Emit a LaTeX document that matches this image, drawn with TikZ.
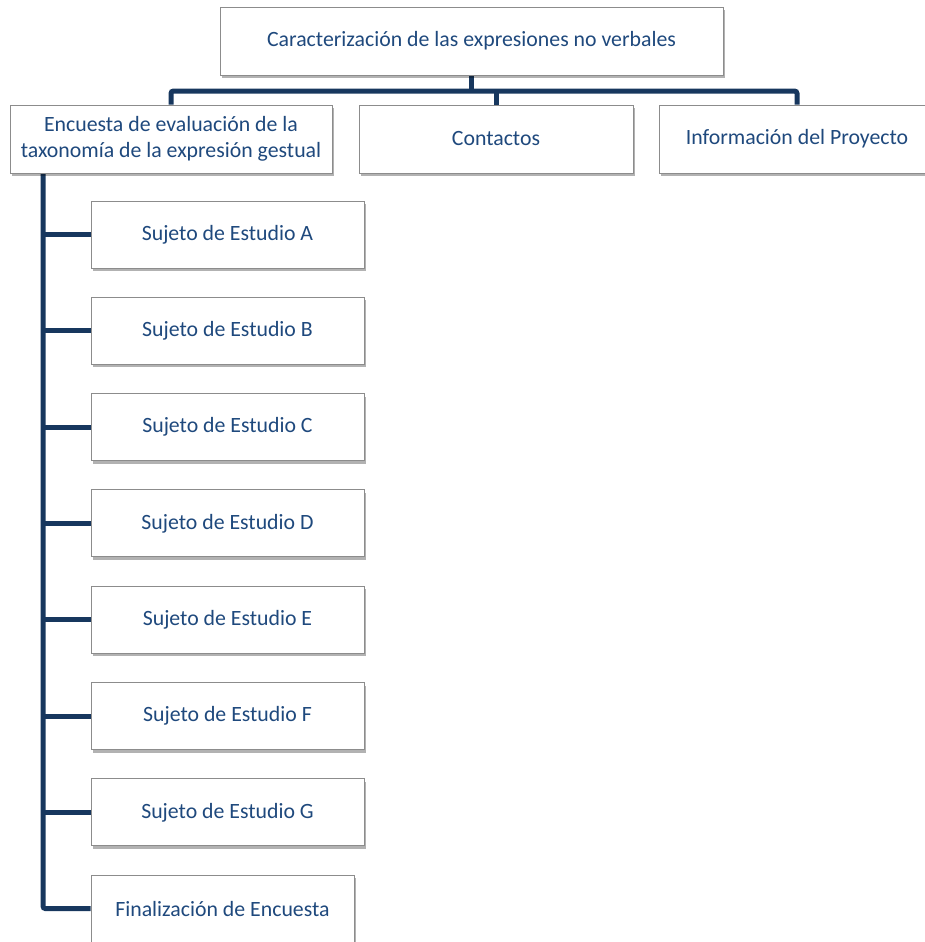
\documentclass[tikz,border=0pt]{standalone}
\usepackage{fontspec}
\setmainfont{Carlito}
\usetikzlibrary{shadows}
\pgfdeclarelayer{bg}
\pgfsetlayers{bg,main}
\definecolor{txt}{RGB}{31,73,125}
\definecolor{ln}{RGB}{23,55,94}
\begin{document}
\begin{tikzpicture}[x=1pt,y=-1pt,
  box/.style={draw=black!45, line width=0.9pt, fill=white, text=txt,
    font=\fontsize{21.8}{26.5}\selectfont, inner sep=0pt, align=center,
    minimum height=68pt,
    drop shadow={shadow xshift=2pt, shadow yshift=-3pt, opacity=0.3, fill=black}},
  conn/.style={draw=ln, line width=5pt, rounded corners=2.5pt}]
\useasboundingbox (0,0) rectangle (924,942);
\node[box, minimum width=503pt] (top) at (471.5,41) {Caracterización de las expresiones no verbales};
\node[box, minimum width=322pt] (enc) at (171,139) {Encuesta de evaluación de la\\taxonomía de la expresión gestual};
\node[box, minimum width=274pt] (con) at (496,139) {Contactos};
\node[box, minimum width=276pt] (inf) at (797,139) {Información del Proyecto};
\node[box, minimum width=273pt, minimum height=67pt] (sa) at (227.5,234.5) {Sujeto de Estudio A};
\node[box, minimum width=273pt, minimum height=67pt] (sb) at (227.5,330.8) {Sujeto de Estudio B};
\node[box, minimum width=273pt, minimum height=67pt] (sc) at (227.5,427.1) {Sujeto de Estudio C};
\node[box, minimum width=273pt, minimum height=67pt] (sd) at (227.5,523.4) {Sujeto de Estudio D};
\node[box, minimum width=273pt, minimum height=67pt] (se) at (227.5,619.7) {Sujeto de Estudio E};
\node[box, minimum width=273pt, minimum height=67pt] (sf) at (227.5,716.0) {Sujeto de Estudio F};
\node[box, minimum width=273pt, minimum height=67pt] (sg) at (227.5,812.3) {Sujeto de Estudio G};
\node[box, minimum width=263pt, minimum height=67pt] (fin) at (222.5,908.6) {Finalización de Encuesta};
\coordinate (bar) at (0,91);
\coordinate (sp) at (43,0);
\begin{pgfonlayer}{bg}
\draw[conn] (top.south) -- (top.south |- bar);
\draw[conn] (enc.north) -- (enc.north |- bar) -- (inf.north |- bar) -- (inf.north);
\draw[conn] (con.north |- bar) -- (con.north);
\draw[conn] (enc.south -| sp) -- (fin.west -| sp) -- (fin.west);
\foreach \n in {sa,sb,sc,sd,se,sf,sg} \draw[conn] (\n.west -| sp) -- (\n.west);
\end{pgfonlayer}
\end{tikzpicture}
\end{document}
